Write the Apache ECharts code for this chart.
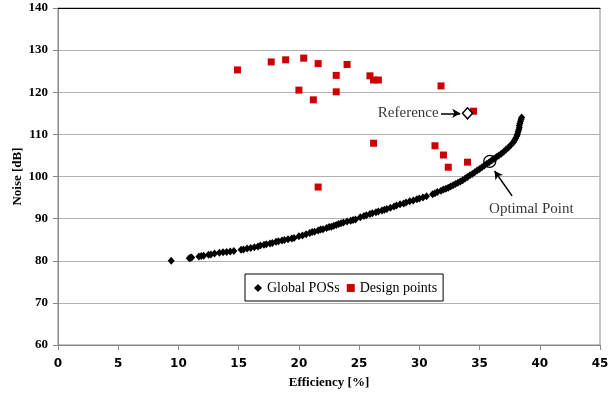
<!DOCTYPE html>
<html><head><meta charset="utf-8">
<script src="https://cdn.jsdelivr.net/npm/echarts@6/dist/echarts.min.js"></script>
<style>html,body{margin:0;padding:0;background:#fff}#c{width:613px;height:394px}</style>
</head><body><div id="c"></div>
<script>
// Global POSs (Pareto-optimal solutions): efficiency [%], noise [dB]
const posEff = [9.4,10.9,11.0,11.1,11.7,11.9,12.1,12.5,12.7,13.0,13.4,13.7,14.0,14.3,14.6,15.2,15.4,15.7,16.0,16.3,16.6,16.8,17.1,17.3,17.6,17.8,18.1,18.3,18.6,18.8,19.1,19.4,19.6,20.0,20.3,20.6,20.9,21.1,21.3,21.6,21.8,22.0,22.3,22.5,22.7,22.9,23.1,23.3,23.5,23.7,24.0,24.3,24.5,24.7,25.1,25.4,25.6,25.9,26.1,26.4,26.6,26.9,27.1,27.3,27.6,27.9,28.1,28.4,28.7,28.9,29.2,29.5,29.8,30.0,30.3,30.6,31.1,31.3,31.5,31.8,32.0,32.2,32.4,32.6,32.8,33.0,33.2,33.4,33.6,33.8,34.0,34.2,34.4,34.6,34.8,35.0,35.2,35.4,35.6,35.8,36.0,36.2,36.4,36.6,36.8,37.0,37.2,37.4,37.6,37.8,37.9,38.0,38.1,38.15,38.2,38.25,38.3,38.3,38.35,38.4,38.45,38.5];
const posNoise = [80.0,80.6,80.7,80.8,81.0,81.1,81.2,81.4,81.5,81.7,81.9,82.0,82.1,82.2,82.3,82.6,82.7,82.9,83.0,83.2,83.4,83.6,83.8,83.9,84.1,84.2,84.5,84.6,84.8,84.9,85.1,85.3,85.4,85.8,86.0,86.3,86.6,86.8,86.9,87.2,87.4,87.5,87.8,88.0,88.1,88.3,88.5,88.7,88.9,89.1,89.3,89.5,89.7,89.8,90.3,90.6,90.8,91.1,91.3,91.5,91.7,91.9,92.1,92.3,92.6,92.9,93.1,93.4,93.6,93.8,94.1,94.3,94.6,94.8,95.0,95.3,95.8,96.0,96.3,96.6,96.9,97.1,97.3,97.6,97.9,98.2,98.5,98.8,99.1,99.5,99.9,100.3,100.6,101.0,101.4,101.8,102.2,102.6,103.0,103.4,103.8,104.2,104.6,105.0,105.4,105.9,106.4,106.9,107.5,108.1,108.6,109.1,109.6,110.1,110.6,111.1,111.6,112.1,112.6,113.1,113.6,114.0];
// Design points
const desEff = [14.9,17.7,18.9,20.4,21.6,24.0,23.1,25.9,26.2,26.6,20.0,21.2,23.1,31.8,34.5,26.2,31.3,32.0,32.4,34.0,21.6];
const desNoise = [125.3,127.2,127.7,128.1,126.8,126.6,124.0,123.9,122.9,122.9,120.5,118.2,120.1,121.5,115.5,107.9,107.3,105.1,102.2,103.4,97.5];
// Special points
const refPoint = [34.0, 115.0];
const optPoint = [35.85, 103.6];
const xTicks = [0,5,10,15,20,25,30,35,40,45];
const yTicks = [60,70,80,90,100,110,120,130,140];

const serif = '"Liberation Serif","Times New Roman",serif';
const chart = echarts.init(document.getElementById('c'));
chart.setOption({
  animation: false,
  backgroundColor: '#fff',
  grid: {left: 58, right: 13, top: 8, bottom: 49, show: true, borderColor: '#888', borderWidth: 1,
         containLabel: false, outerBoundsMode: 'none'},
  legend: {
    left: 245, top: 274,
    borderColor: '#000', borderWidth: 1, padding: [7, 6, 6, 9],
    backgroundColor: '#fff', itemGap: 7, itemWidth: 8, itemHeight: 8,
    textStyle: {fontFamily: serif, fontSize: 14, color: '#000'},
    data: [{name: 'Global POSs', icon: 'diamond'}, {name: 'Design points', icon: 'rect'}]
  },
  xAxis: [{
    type: 'value', min: xTicks[0], max: xTicks[xTicks.length-1], interval: 5,
    name: 'Efficiency [%]', nameLocation: 'middle', nameGap: 31, nameMoveOverlap: false,
    nameTextStyle: {fontFamily: serif, fontWeight: 'bold', fontSize: 13, color: '#000'},
    axisLine: {lineStyle: {color: '#888'}},
    axisTick: {show: true, length: 5, lineStyle: {color: '#888'}},
    axisLabel: {fontFamily: '"DejaVu Sans",Verdana,sans-serif', fontWeight: 'bold', fontSize: 12, color: '#000', margin: 13},
    splitLine: {show: false}
  }, {
    type: 'value', position: 'top', min: 0, max: 45,
    axisLine: {show: true, lineStyle: {color: '#000'}},
    axisTick: {show: false}, axisLabel: {show: false}, splitLine: {show: false}
  }],
  yAxis: {
    type: 'value', min: yTicks[0], max: yTicks[yTicks.length-1], interval: 10,
    name: 'Noise [dB]', nameLocation: 'middle', nameGap: 34, nameMoveOverlap: false,
    nameTextStyle: {fontFamily: serif, fontWeight: 'bold', fontSize: 13, color: '#000'},
    axisLine: {show: true, lineStyle: {color: '#888'}},
    axisTick: {show: true, length: 5, lineStyle: {color: '#888'}},
    axisLabel: {fontFamily: serif, fontWeight: 'bold', fontSize: 13, color: '#000', margin: 10},
    splitLine: {show: true, lineStyle: {color: '#b0b0b0', width: 1}}
  },
  series: [
    {
      name: 'Global POSs', type: 'scatter', symbol: 'diamond', symbolSize: [7, 8],
      itemStyle: {color: '#000', opacity: 1},
      data: posEff.map((x, i) => [x, posNoise[i]]), z: 3
    },
    {
      name: 'Design points', type: 'scatter', symbol: 'rect', symbolSize: 7,
      itemStyle: {color: '#cc0000', opacity: 1},
      data: desEff.map((x, i) => [x, desNoise[i]]), z: 2
    },
    {
      name: 'Reference', type: 'scatter', symbol: 'diamond', symbolSize: [10, 11],
      itemStyle: {color: '#fff', borderColor: '#000', borderWidth: 1.5, opacity: 1},
      data: [refPoint], z: 4,
      label: {show: false},
      markLine: {
        silent: true, symbol: ['none', 'arrow'], symbolSize: [7, 8],
        lineStyle: {color: '#000', width: 1.5, type: 'solid'},
        label: {show: false},
        data: [
          [{coord: [31.8, 115.0]}, {coord: [33.4, 115.0]}],
          [{coord: [37.7, 95.4]}, {coord: [36.25, 101.3]}]
        ]
      }
    },
    {
      name: 'Optimal', type: 'scatter', symbol: 'circle', symbolSize: 12,
      itemStyle: {color: 'rgba(0,0,0,0)', borderColor: '#000', borderWidth: 1.3, opacity: 1},
      data: [optPoint], z: 5
    },
    {
      name: 'labels', type: 'scatter', symbolSize: 0, silent: true,
      data: [
        {value: [31.6, 115.0], label: {show: true, position: 'left', distance: 0, formatter: 'Reference'}},
        {value: [39.3, 92.3], label: {show: true, position: 'inside', formatter: 'Optimal Point'}}
      ],
      label: {fontFamily: serif, fontSize: 15, color: '#000'}
    }
  ]
});
</script></body></html>
